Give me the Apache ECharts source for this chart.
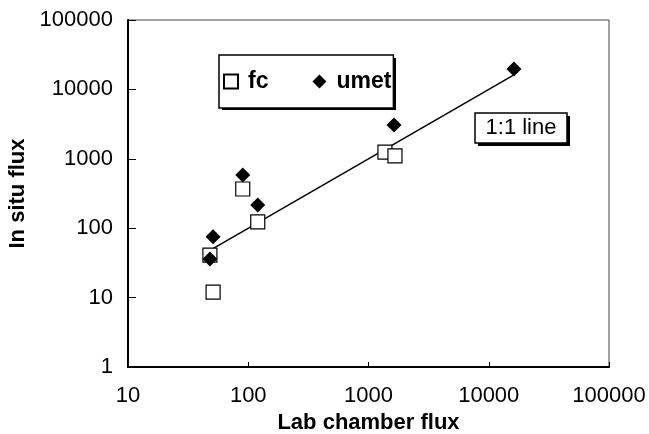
<!DOCTYPE html>
<html>
<head>
<meta charset="utf-8">
<script src="https://cdn.jsdelivr.net/npm/echarts@6/dist/echarts.min.js"></script>
<style>
html,body{margin:0;padding:0;background:#fff;}
#chart{width:649px;height:434px;}
</style>
</head>
<body>
<div id="chart"></div>
<script>
// Data (log-log)
const fcX = [48, 51, 90, 120, 1370, 1660];
const fcY = [41, 12, 367, 123, 1250, 1100];
const umetX = [48, 51, 90, 120, 1630, 16200];
const umetY = [36, 75, 584, 216, 3070, 19700];
const oneToOneX = [48, 16200];
const xTicks = [10, 100, 1000, 10000, 100000];
const yTicks = [1, 10, 100, 1000, 10000, 100000];

const FONT = 'Liberation Sans, Arial, sans-serif';
const chart = echarts.init(document.getElementById('chart'), null, {renderer: 'canvas'});

const zip = (a, b) => a.map((v, i) => [v, b[i]]);

chart.setOption({
  backgroundColor: '#fff',
  animation: false,
  grid: {left: 128, top: 20, right: 40, bottom: 67, containLabel: false, outerBoundsMode: 'none',
    show: true, borderColor: '#444', borderWidth: 1, backgroundColor: 'transparent'},
  xAxis: {
    type: 'log', logBase: 10, min: xTicks[0], max: xTicks[xTicks.length - 1],
    name: 'Lab chamber flux', nameLocation: 'middle', nameGap: 45,
    nameTextStyle: {fontFamily: FONT, fontSize: 22, fontWeight: 'bold', color: '#000'},
    axisLine: {show: true, lineStyle: {color: '#000', width: 2}},
    axisTick: {show: true, inside: true, length: 5, lineStyle: {color: '#000', width: 1}},
    minorTick: {show: false},
    splitLine: {show: false},
    axisLabel: {fontFamily: FONT, fontSize: 22, color: '#000', margin: 18,
      formatter: v => String(Math.round(v))}
  },
  yAxis: {
    type: 'log', logBase: 10, min: yTicks[0], max: yTicks[yTicks.length - 1],
    name: 'In situ flux', nameLocation: 'middle', nameGap: 96,
    nameTextStyle: {fontFamily: FONT, fontSize: 22, fontWeight: 'bold', color: '#000'},
    axisLine: {show: true, lineStyle: {color: '#000', width: 2}},
    axisTick: {show: true, inside: true, length: 8, lineStyle: {color: '#000', width: 1}},
    minorTick: {show: false},
    splitLine: {show: false},
    axisLabel: {fontFamily: FONT, fontSize: 22, color: '#000', margin: 15,
      formatter: v => String(Math.round(v))}
  },
  legend: {
    data: ['fc', 'umet'],
    left: 219, top: 55, z: 5,
    orient: 'horizontal',
    itemWidth: 14, itemHeight: 14, itemGap: 44,
    padding: [15, 2, 15, 4],
    backgroundColor: '#fff', borderColor: '#000', borderWidth: 1.5,
    textStyle: {fontFamily: FONT, fontSize: 23, fontWeight: 'bold', color: '#000', padding: [0, 0, 0, 5]}
  },
  series: [
    {
      name: '1:1 line', type: 'line', data: zip(oneToOneX, oneToOneX),
      showSymbol: false, symbol: 'none', silent: true,
      lineStyle: {color: '#000', width: 1.5}, z: 1
    },
    {
      name: 'fc', type: 'scatter', data: zip(fcX, fcY),
      symbol: 'rect', symbolSize: 14,
      itemStyle: {color: '#fff', borderColor: '#000', borderWidth: 1.2, opacity: 1}, z: 3
    },
    {
      name: 'umet', type: 'scatter', data: zip(umetX, umetY),
      symbol: 'diamond', symbolSize: [15, 15],
      itemStyle: {color: '#000', opacity: 1}, z: 4
    }
  ],
  graphic: [
    {type: 'rect', shape: {x: 222, y: 58, width: 174, height: 52}, style: {fill: '#000'}, z: 4, zlevel: 0},
    {type: 'rect', shape: {x: 478, y: 116, width: 92, height: 30}, style: {fill: '#000'}, z: 10},
    {type: 'rect', shape: {x: 475, y: 113, width: 92, height: 30}, style: {fill: '#fff', stroke: '#000', lineWidth: 1.5}, z: 11},
    {type: 'text', x: 521, y: 128, z: 12,
      style: {text: '1:1 line', fill: '#000', font: 'normal 22px ' + FONT, align: 'center', verticalAlign: 'middle'}}
  ]
});
</script>
</body>
</html>
